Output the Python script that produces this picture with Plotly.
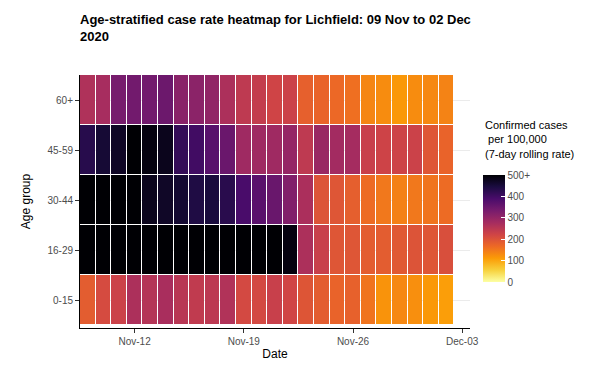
import pandas as pd
import plotly.graph_objects as go

dates = pd.date_range("2020-11-09", "2020-12-02", freq="D")
age_groups = ["0-15", "16-29", "30-44", "45-59", "60+"]

# 7-day rolling rate per 100,000 (values above 500 shown as 500+)
rate_0_15 = [185, 212, 228, 268, 258, 272, 252, 242, 248, 262, 215, 215,
             232, 220, 196, 185, 175, 178, 155, 120, 132, 125, 115, 108]
rate_16_29 = [560, 580, 600, 610, 620, 615, 600, 590, 585, 570, 560, 545,
              520, 490, 268, 232, 195, 195, 185, 185, 190, 198, 195, 205]
rate_30_44 = [540, 535, 530, 520, 478, 468, 458, 440, 448, 428, 390, 370,
              352, 322, 270, 198, 195, 182, 165, 150, 140, 150, 155, 165]
rate_45_59 = [430, 455, 470, 505, 490, 478, 415, 400, 372, 350, 285, 285,
              285, 298, 245, 292, 280, 278, 232, 225, 225, 228, 195, 175]
rate_60p = [265, 275, 335, 340, 340, 348, 312, 310, 302, 268, 245, 238,
            222, 228, 180, 175, 168, 160, 135, 128, 115, 128, 132, 138]

z = [rate_0_15, rate_16_29, rate_30_44, rate_45_59, rate_60p]

font = "Liberation Sans, Arial, sans-serif"

# page body has an 8px margin, so the figure is 8px smaller than the window
W, H = 581, 364
L, R, T, B = 72, 119, 67, 44
PH = H - T - B

fig = go.Figure(
    go.Heatmap(
        x=dates,
        y=age_groups,
        z=z,
        zmin=0,
        zmax=500,
        colorscale="Inferno",
        reversescale=True,
        xgap=1,
        ygap=1,
        colorbar=dict(
            tickvals=[0, 100, 200, 300, 400, 500],
            ticktext=["0", "100", "200", "300", "400", "500+"],
            ticks="inside",
            tickcolor="white",
            ticklen=4,
            tickfont=dict(size=10, color="#4d4d4d"),
            outlinewidth=0,
            thickness=22,
            lenmode="pixels",
            len=107,
            ypad=0,
            xpad=0,
            x=1.033,
            xanchor="left",
            y=(H - B - 274) / PH,
            yanchor="bottom",
        ),
        hovertemplate="%{y}<br>%{x|%d %b}<br>%{z}<extra></extra>",
    )
)

# legend title, placed above the colour bar
fig.add_annotation(
    xref="paper",
    yref="paper",
    x=1.033,
    y=(H - B - 109) / PH,
    xanchor="left",
    yanchor="top",
    align="left",
    showarrow=False,
    text="Confirmed cases<br> per 100,000<br>(7-day rolling rate)",
    font=dict(size=11, color="#000000"),
)

fig.update_layout(
    width=W,
    height=H,
    margin=dict(l=L, r=R, t=T, b=B, autoexpand=False),
    paper_bgcolor="white",
    plot_bgcolor="white",
    font=dict(family=font, color="#000000"),
    title=dict(
        text="<b>Age-stratified case rate heatmap for Lichfield: 09 Nov to 02 Dec<br>2020</b>",
        x=L / W,
        xanchor="left",
        xref="container",
        y=0.956,
        yanchor="top",
        font=dict(size=13, color="#000000"),
    ),
)

fig.update_xaxes(
    title=dict(text="Date", font=dict(size=12), standoff=3),
    automargin=False,
    range=["2020-11-08 12:00", "2020-12-03 12:00"],
    tickvals=["2020-11-12", "2020-11-19", "2020-11-26", "2020-12-03"],
    tickformat="%b-%d",
    tickfont=dict(size=10, color="#4d4d4d"),
    showgrid=False,
    showline=True,
    linecolor="black",
    linewidth=1,
    ticks="outside",
    ticklen=4,
    tickcolor="#333333",
    zeroline=False,
)

fig.update_yaxes(
    title=dict(text="Age group", font=dict(size=12), standoff=14),
    automargin=False,
    range=[-0.56, 4.5],
    tickfont=dict(size=10, color="#4d4d4d"),
    showgrid=True,
    gridcolor="#ebebeb",
    showline=True,
    linecolor="black",
    linewidth=1,
    ticks="outside",
    ticklen=4,
    tickcolor="#333333",
    zeroline=False,
)

fig.write_html("out.html")
